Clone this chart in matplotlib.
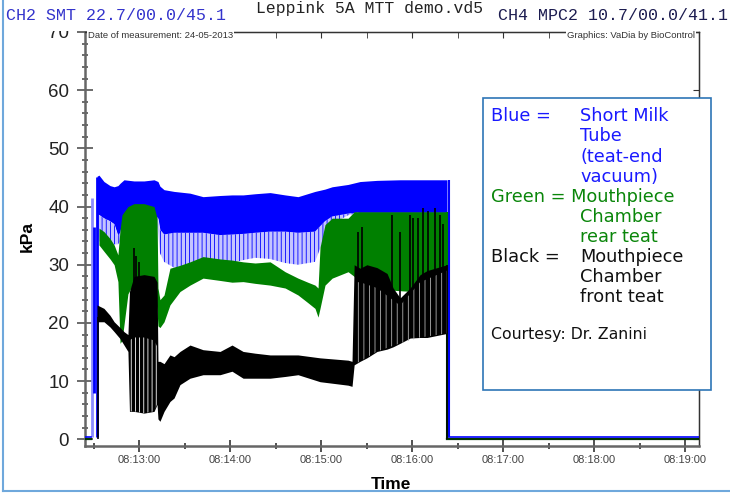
import matplotlib
matplotlib.use('Agg')
import matplotlib.pyplot as plt
from matplotlib.patches import Rectangle
from matplotlib.lines import Line2D
from matplotlib.ticker import MultipleLocator, FuncFormatter

plt.rcParams['font.family'] = 'Liberation Sans'
plt.rcParams['hatch.linewidth'] = 0.6

# time axis: seconds after 08:12:00
t_start, t_end = 24.2, 428.9

# Blue = short milk tube (teat-end vacuum): band top / solid bottom / lowest dips
blue_t = [32.1, 33.4, 36.7, 40.7, 43.4, 45.9, 47.3, 49.9, 56.5, 63.1,
          69.7, 72.3, 73.6, 76.3, 82.9, 93.4, 102.0, 113.2, 121.1, 128.4,
          136.3, 146.2, 156.1, 164.6, 175.8, 182.4, 187.1, 197.6, 205.5, 216.7,
          231.9, 245.1, 262.8]
blue_hi = [45.2, 45.4, 44.3, 43.6, 43.4, 43.6, 44.0, 44.6, 44.4, 44.4,
           44.6, 44.3, 43.5, 42.9, 42.6, 42.3, 41.7, 41.9, 42.0, 42.0,
           42.2, 42.4, 42.0, 41.7, 42.6, 43.0, 43.4, 43.8, 44.3, 44.5,
           44.6, 44.6, 44.6]
blue_lo = [38.6, 38.6, 38.0, 37.5, 37.0, 35.0, 35.5, 38.0, 38.5, 38.6,
           38.6, 38.0, 36.0, 35.2, 35.5, 35.5, 35.5, 35.1, 35.2, 35.3,
           35.5, 35.7, 35.7, 35.5, 35.7, 37.5, 38.3, 38.8, 39.0, 39.0,
           39.0, 39.0, 39.0]
blue_dip = [36.0, 34.0, 34.0, 33.5, 33.5, 33.5, 34.0, 37.0, 38.0, 38.0,
            38.0, 36.0, 32.0, 30.5, 29.5, 28.5, 29.8, 30.3, 30.3, 30.8,
            31.2, 31.0, 30.3, 30.0, 30.5, 35.0, 37.0, 38.5, 39.0, 39.0,
            39.0, 39.0, 39.0]

# Green = mouthpiece chamber, rear teat
green_t = [33.4, 36.7, 40.7, 43.4, 45.9, 47.3, 48.6, 52.5, 56.5, 63.1,
           69.7, 71.7, 72.3, 73.6, 76.3, 80.2, 86.8, 93.4, 102.0, 113.2,
           121.1, 128.4, 136.3, 146.2, 156.1, 164.6, 171.0, 175.8, 177.8, 179.1,
           182.4, 187.1, 197.6, 201.6, 205.5, 262.8]
green_hi = [36.3, 35.7, 34.5, 33.4, 31.7, 36.0, 38.6, 40.0, 40.5, 40.5,
            40.0, 38.0, 26.0, 24.0, 24.8, 29.4, 29.9, 30.5, 31.4, 31.0,
            30.8, 30.5, 30.3, 30.5, 28.8, 27.7, 27.0, 26.5, 26.0, 33.0,
            36.9, 38.0, 38.0, 39.1, 39.1, 39.1]
green_lo = [33.4, 32.3, 31.0, 30.0, 27.1, 16.5, 17.0, 25.0, 27.0, 27.0,
            27.0, 22.0, 19.5, 19.2, 20.2, 23.1, 25.4, 26.5, 27.7, 27.3,
            27.0, 27.1, 26.8, 26.5, 26.0, 24.8, 23.5, 22.5, 21.0, 22.5,
            26.5, 27.7, 28.8, 28.0, 26.0, 25.0]

# Black = mouthpiece chamber, front teat
black_t = [32.1, 36.7, 40.7, 43.4, 47.3, 49.9, 52.5, 53.5, 56.5, 63.1,
           69.7, 71.7, 72.3, 73.6, 76.3, 80.2, 82.9, 86.8, 93.4, 102.0,
           113.2, 121.1, 128.4, 136.3, 146.2, 156.1, 164.6, 179.1, 197.6, 200.2,
           201.6, 205.5, 210.0, 216.7, 223.3, 227.3, 231.9, 238.5, 245.1, 249.7,
           262.8]
black_hi = [23.1, 22.5, 21.3, 20.2, 19.2, 18.5, 18.0, 25.4, 28.0, 28.3,
            28.0, 27.0, 13.4, 13.4, 13.0, 14.5, 14.2, 15.1, 16.2, 15.4,
            15.1, 16.2, 15.1, 14.8, 14.5, 14.5, 14.5, 14.0, 13.6, 13.4,
            30.0, 29.4, 30.0, 29.5, 28.5, 26.0, 24.3, 26.0, 28.3, 29.0,
            30.0]
black_lo = [20.2, 20.2, 19.3, 18.5, 17.3, 16.2, 15.1, 4.8, 4.8, 4.5,
            4.8, 6.0, 3.5, 3.1, 4.8, 6.5, 7.1, 9.4, 10.5, 11.1,
            11.1, 11.7, 10.5, 10.5, 10.5, 10.8, 11.1, 9.9, 9.3, 9.1,
            12.8, 13.4, 14.0, 15.1, 15.5, 15.9, 16.5, 17.4, 17.5, 17.5,
            18.2]

# open stretches between pulsation strokes in the black trace
gap1_t = [53.5, 56.5, 63.1, 69.7, 71.7]
gap1_lo = [4.8, 4.8, 4.5, 4.8, 6.0]
gap1_hi = [17.0, 17.5, 17.5, 17.0, 16.0]
gap2_t = [201.6, 205.5, 216.7, 231.9, 245.1, 262.8]
gap2_lo = [12.8, 13.4, 15.1, 16.5, 17.5, 18.2]
gap2_hi = [27.0, 27.0, 26.0, 23.0, 27.0, 29.0]

# single black strokes above the band
peak_t = [56.5, 57.8, 60.0, 204.1, 206.8, 226.6, 231.9, 238.5, 240.5, 243.8,
          247.1, 250.4, 255.0, 258.3, 260.2]
peak_v = [32.9, 31.5, 30.5, 35.7, 36.5, 38.6, 35.7, 38.6, 38.0, 38.0,
          39.8, 39.2, 39.8, 38.6, 37.0]

# rise at milking start
rise_t = [28.5, 29.9, 32.0]
rise_lo = [0.35, 8.0, 0.35]
rise_hi = [41.5, 36.5, 45.0]
rise_c = ['#8c8cff', '#0000ff', '#0000ff']

# resting levels before and after
pre_t = [t_start, 28.4]
post_t = [263.0, t_end]
blue_rest = 0.35
other_rest = 0.0

# fall at milking end
fall_blue_t, fall_green_t, fall_black_t = 264.0, 262.9, 263.0

BLUE = '#0000ff'
GREEN = '#008000'

W, H = 730, 494
fig = plt.figure(figsize=(W / 100, H / 100), dpi=100)
ax = fig.add_axes([85 / W, 48 / H, 614 / W, 414.3 / H])

ax.fill_between(blue_t, blue_lo, blue_hi, color=BLUE, lw=0, zorder=2)
ax.fill_between(blue_t, blue_dip, blue_lo, facecolor='#c4c4ff', edgecolor=BLUE,
                hatch='||||', lw=0, zorder=2)
ax.vlines(rise_t, rise_lo, rise_hi, colors=rise_c, lw=2, zorder=2)

ax.fill_between(green_t, green_lo, green_hi, color=GREEN, lw=0, zorder=3)

ax.fill_between(black_t, black_lo, black_hi, color='black', lw=0, zorder=4)
ax.fill_between(gap1_t, gap1_lo, gap1_hi, facecolor='none', edgecolor='white',
                hatch='||||', lw=0, zorder=4.5)
ax.fill_between(gap2_t, gap2_lo, gap2_hi, facecolor='none', edgecolor='#b0b0b0',
                hatch='|||', lw=0, zorder=4.5)
ax.vlines(peak_t, 20, peak_v, colors='black', lw=1.2, zorder=4)
ax.vlines([33.0], 0, 21, colors='black', lw=1.2, zorder=4)

for seg in (pre_t, post_t):
    ax.plot(seg, [other_rest] * 2, color='#003300', lw=1.6, zorder=3)
    ax.plot(seg, [blue_rest] * 2, color=BLUE, lw=1.2, zorder=3)
ax.vlines([fall_blue_t], blue_rest, blue_hi[-1], colors=BLUE, lw=1.5, zorder=2)
ax.vlines([fall_green_t], 0, green_hi[-1], colors=GREEN, lw=1.5, zorder=3)
ax.vlines([fall_black_t], 0, black_hi[-1], colors='black', lw=1.2, zorder=4)

ax.set_xlim(t_start, t_end)
ax.set_ylim(-1.15, 70.05)


def hms(s, pos):
    total = 8 * 3600 + 12 * 60 + int(round(s))
    return '%02d:%02d:%02d' % (total // 3600, total % 3600 // 60, total % 60)


ax.xaxis.set_major_locator(MultipleLocator(60))
ax.xaxis.set_minor_locator(MultipleLocator(30))
ax.xaxis.set_major_formatter(FuncFormatter(hms))
ax.yaxis.set_major_locator(MultipleLocator(10))
ax.yaxis.set_minor_locator(MultipleLocator(2))

ax.tick_params(axis='x', which='major', direction='inout', length=9, width=1.1,
               color='#222222', labelsize=8, labelcolor='#444444', pad=2)
ax.tick_params(axis='x', which='minor', direction='inout', length=5, width=1.1,
               color='#222222')
ax.tick_params(axis='y', which='major', direction='inout', length=11, width=1.1,
               color='#444444', labelsize=13.5, labelcolor='#222222', pad=6)
ax.tick_params(axis='y', which='minor', direction='inout', length=5, width=1.1,
               color='#444444')

for side in ('left', 'bottom'):
    ax.spines[side].set_color('#666666')
    ax.spines[side].set_linewidth(1.8)
for side in ('right', 'top'):
    ax.spines[side].set_color('#333333')
    ax.spines[side].set_linewidth(1.0)

top = ax.secondary_xaxis('top')
top.xaxis.set_major_locator(MultipleLocator(60))
top.xaxis.set_minor_locator(MultipleLocator(30))
top.tick_params(which='both', direction='in', length=4, color='#333333',
                labeltop=False)
right = ax.secondary_yaxis('right')
right.yaxis.set_major_locator(MultipleLocator(10))
right.yaxis.set_minor_locator(MultipleLocator(2))
right.tick_params(which='major', direction='in', length=4, color='#333333',
                  labelright=False)
right.tick_params(which='minor', direction='in', length=0)


def fx(px):
    return px / W


def fy(py):
    return 1 - py / H


fig.text(fx(27), fy(237), 'kPa', rotation=90, fontsize=12.5, weight='bold',
         ha='center', va='center')
fig.text(fx(391), fy(484), 'Time', fontsize=12.5, weight='bold',
         ha='center', va='center')

fig.text(fx(88), fy(36), 'Date of measurement: 24-05-2013', fontsize=6.8,
         color='#333333', va='center', zorder=3,
         bbox=dict(facecolor='white', edgecolor='none', pad=0.6))
fig.text(fx(695), fy(36), 'Graphics: VaDia by BioControl', fontsize=6.8,
         color='#333333', va='center', ha='right', zorder=3,
         bbox=dict(facecolor='white', edgecolor='none', pad=0.6))

# header strip over the top of the plot
fig.patches.append(Rectangle((0, fy(31)), 1, 31 / H, transform=fig.transFigure,
                             facecolor='white', edgecolor='none', zorder=1))
mono = 'Liberation Mono'
fig.text(fx(6), fy(15), 'CH2 SMT 22.7/00.0/45.1', family=mono, fontsize=12,
         color='#3333cc', va='center', zorder=3)
fig.text(fx(370), fy(8), 'Leppink 5A MTT demo.vd5', family=mono, fontsize=11.8,
         color='#222222', va='center', ha='center', zorder=3)
fig.text(fx(498), fy(15), 'CH4 MPC2 10.7/00.0/41.1', family=mono, fontsize=12,
         color='#1c1c50', va='center', zorder=3)

# page frame
frame = '#6fa8dc'
fig.lines.append(Line2D([fx(3), fx(3)], [fy(0), fy(491)], transform=fig.transFigure,
                        color=frame, lw=1.5, zorder=2))
fig.lines.append(Line2D([fx(3), 1], [fy(491), fy(491)], transform=fig.transFigure,
                        color=frame, lw=1.5, zorder=2))

# note box
fig.patches.append(Rectangle((fx(483), fy(390)), 228 / W, 292 / H,
                             transform=fig.transFigure, facecolor='white',
                             edgecolor='#2e75b6', lw=1.2, zorder=2))
note = 'DejaVu Sans'
rows = [
    (116, 'Blue =', 'Short Milk', '#1a1aff'),
    (136, None, 'Tube', '#1a1aff'),
    (157, None, '(teat-end', '#1a1aff'),
    (177, None, 'vacuum)', '#1a1aff'),
    (197, 'Green = Mouthpiece', None, '#0a860a'),
    (217, None, 'Chamber', '#0a860a'),
    (237, None, 'rear teat', '#0a860a'),
    (257, 'Black =', 'Mouthpiece', '#111111'),
    (277, None, 'Chamber', '#111111'),
    (297, None, 'front teat', '#111111'),
]
for py, key, desc, col in rows:
    if key:
        fig.text(fx(491), fy(py), key, family=note, fontsize=12.8, color=col,
                 va='center', zorder=3)
    if desc:
        fig.text(fx(580), fy(py), desc, family=note, fontsize=12.8, color=col,
                 va='center', zorder=3)
fig.text(fx(491), fy(334), 'Courtesy: Dr. Zanini', family=note, fontsize=11.3,
         color='#111111', va='center', zorder=3)

fig.savefig('out.png', dpi=100)
